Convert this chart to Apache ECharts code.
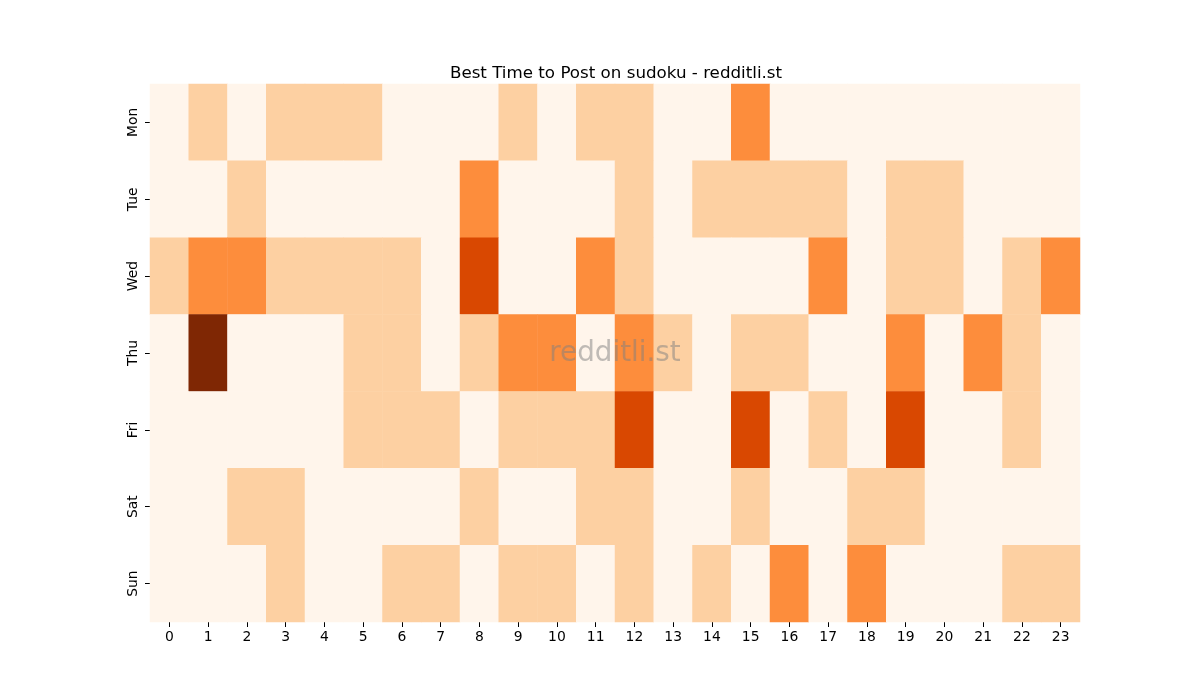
<!DOCTYPE html>
<html>
<head>
<meta charset="utf-8">
<script src="https://cdn.jsdelivr.net/npm/echarts@6/dist/echarts.min.js"></script>
<style>
  html, body { margin: 0; padding: 0; background: #fff; }
  #chart { width: 1200px; height: 700px; }
</style>
</head>
<body>
<div id="chart"></div>
<script>
const hours = ["0","1","2","3","4","5","6","7","8","9","10","11","12","13","14","15","16","17","18","19","20","21","22","23"];
const days = ["Mon", "Tue", "Wed", "Thu", "Fri", "Sat", "Sun"];

// activity level per hour (0..4)
const mon = [0,1,0,1,1,1,0,0,0,1,0,1,1,0,0,2,0,0,0,0,0,0,0,0];
const tue = [0,0,1,0,0,0,0,0,2,0,0,0,1,0,1,1,1,1,0,1,1,0,0,0];
const wed = [1,2,2,1,1,1,1,0,3,0,0,2,1,0,0,0,0,2,0,1,1,0,1,2];
const thu = [0,4,0,0,0,1,1,0,1,2,2,0,2,1,0,1,1,0,0,2,0,2,1,0];
const fri = [0,0,0,0,0,1,1,1,0,1,1,1,3,0,0,3,0,1,0,3,0,0,1,0];
const sat = [0,0,1,1,0,0,0,0,1,0,0,1,1,0,0,1,0,0,1,1,0,0,0,0];
const sun = [0,0,0,1,0,0,1,1,0,1,1,0,1,0,1,0,2,0,2,0,0,0,1,1];

const rows = [mon, tue, wed, thu, fri, sat, sun];
const cells = [];
rows.forEach((row, d) => {
  row.forEach((v, h) => cells.push([h, d, v]));
});

const font = "DejaVu Sans";
const chart = echarts.init(document.getElementById("chart"));

chart.setOption({
  backgroundColor: "#ffffff",
  animation: false,
  title: {
    text: "Best Time to Post on sudoku - redditli.st",
    left: 611,
    textAlign: "center",
    top: 60,
    textStyle: { fontFamily: font, fontSize: 16.7, fontWeight: "normal", color: "#000" }
  },
  grid: { left: 150, right: 120, top: 84, bottom: 78 },
  xAxis: {
    type: "category",
    data: hours,
    axisLine: { show: false },
    axisTick: { show: true, alignWithLabel: true, length: 5, lineStyle: { color: "#000" } },
    axisLabel: { fontFamily: font, fontSize: 13.9, color: "#000", margin: 8 },
    splitLine: { show: false }
  },
  yAxis: {
    type: "category",
    data: days,
    inverse: true,
    axisLine: { show: false },
    axisTick: { show: true, alignWithLabel: true, length: 5, lineStyle: { color: "#000" } },
    axisLabel: { fontFamily: font, fontSize: 13.9, color: "#000", rotate: 90, margin: 10 },
    splitLine: { show: false }
  },
  visualMap: {
    show: false,
    type: "piecewise",
    dimension: 2,
    pieces: [
      { value: 0, color: "#fff5eb" },
      { value: 1, color: "#fdd0a2" },
      { value: 2, color: "#fd8d3c" },
      { value: 3, color: "#d94801" },
      { value: 4, color: "#7f2704" }
    ]
  },
  series: [{
    type: "heatmap",
    data: cells,
    itemStyle: { borderWidth: 0 },
    emphasis: { disabled: true }
  }],
  graphic: [{
    type: "text",
    x: 615,
    y: 354,
    z: 100,
    silent: true,
    style: {
      text: "redditli.st",
      fontFamily: font,
      fontSize: 27.8,
      fill: "rgba(128,128,128,0.5)",
      align: "center",
      verticalAlign: "middle"
    }
  }]
});
</script>
</body>
</html>
